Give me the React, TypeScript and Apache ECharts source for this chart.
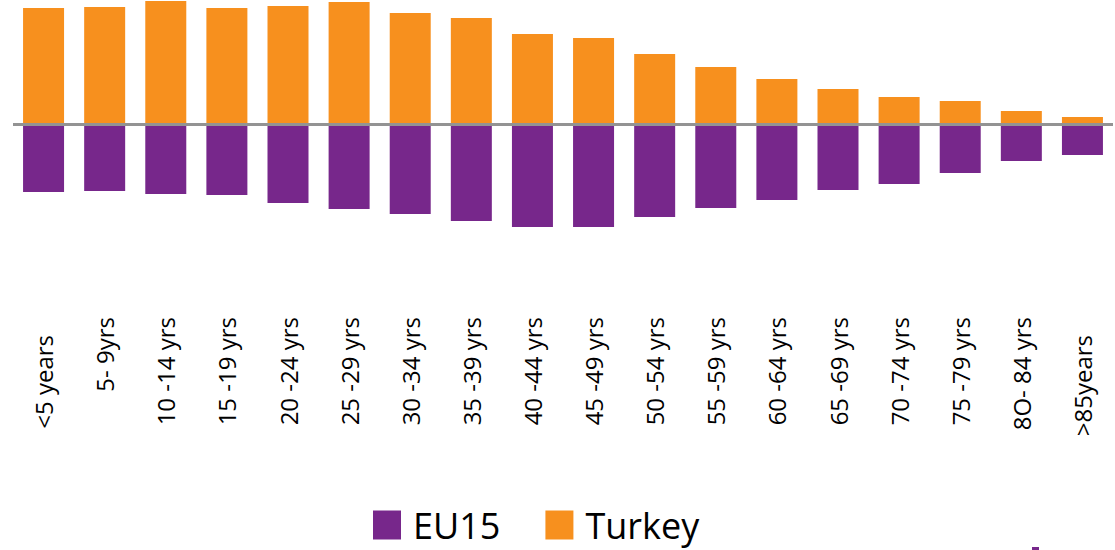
import React, { useEffect, useRef } from "react";
import * as echarts from "echarts";

const categories = [
  "<5 years", "5- 9yrs", "10 -14 yrs", "15 -19 yrs", "20 -24 yrs", "25 -29 yrs",
  "30 -34 yrs", "35 -39 yrs", "40 -44 yrs", "45 -49 yrs", "50 -54 yrs", "55 -59 yrs",
  "60 -64 yrs", "65 -69 yrs", "70 -74 yrs", "75 -79 yrs", "8O- 84 yrs", ">85years",
];
const turkey = [116, 117, 123, 116, 118, 122, 111, 106, 90, 86, 70, 57, 45, 35, 27, 23, 13, 7];
const eu15 = [-68, -67, -70, -71, -79, -85, -90, -97, -103, -103, -93, -84, -76, -66, -60, -49, -37, -31];
const shiftedLabels = ["<5 years", ">85years"];

export default function App() {
  const ref = useRef<HTMLDivElement>(null);
  useEffect(() => {
    if (!ref.current) return;
    const chart = echarts.init(ref.current, null, { renderer: "svg" });
    chart.setOption({
      animation: false,
      backgroundColor: "#ffffff",
      grid: { left: 13, right: 2, top: 0, height: 305, containLabel: false },
      legend: {
        data: ["EU15", "Turkey"],
        left: 373,
        top: 505,
        padding: 0,
        itemWidth: 28,
        itemHeight: 29,
        itemGap: 45,
        icon: "rect",
        textStyle: {
          fontFamily: "Open Sans",
          fontSize: 36,
          lineHeight: 40,
          color: "#000",
          padding: [0, 0, 0, 7],
        },
      },
      xAxis: {
        type: "category",
        data: categories.map((c) =>
          shiftedLabels.includes(c)
            ? { value: c, textStyle: { padding: [0, 18, 0, 0] } }
            : c
        ),
        position: "bottom",
        axisLine: { show: false, onZero: false },
        axisTick: { show: false },
        axisLabel: {
          rotate: 90,
          interval: 0,
          margin: 12,
          fontFamily: "Open Sans",
          fontSize: 24,
          color: "#000",
        },
      },
      yAxis: {
        type: "value",
        min: -181,
        max: 124,
        show: false,
        splitLine: { show: false },
      },
      series: [
        {
          name: "EU15",
          type: "bar",
          stack: "total",
          data: eu15,
          barWidth: 41,
          itemStyle: { color: "#77278B" },
          markLine: {
            silent: true,
            symbol: "none",
            label: { show: false },
            lineStyle: { color: "#939393", width: 3, type: "solid" },
            data: [{ yAxis: 0 }],
          },
        },
        {
          name: "Turkey",
          type: "bar",
          stack: "total",
          data: turkey,
          barWidth: 41,
          itemStyle: { color: "#F7901E" },
        },
      ],
      graphic: [
        { type: "rect", shape: { x: 1032, y: 547, width: 7, height: 3 }, style: { fill: "#77278B" } },
      ],
    });
    return () => chart.dispose();
  }, []);
  return (
    <div
      ref={ref}
      style={{ position: "absolute", left: 0, top: 0, width: 1115, height: 550 }}
    />
  );
}
